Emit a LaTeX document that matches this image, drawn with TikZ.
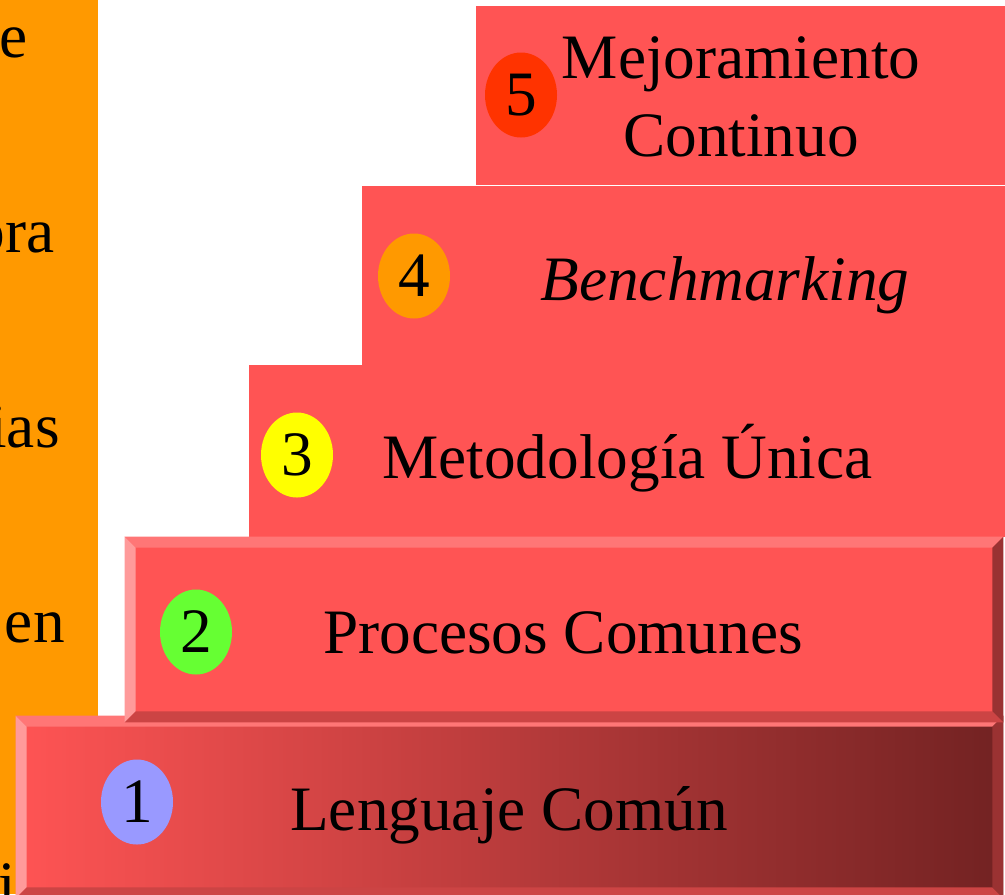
\documentclass[tikz,border=0pt]{standalone}
\usepackage{fontspec}
\setmainfont{Liberation Serif}
\usetikzlibrary{shapes.geometric}
\definecolor{stepred}{HTML}{FF5454}
\definecolor{stepdark}{HTML}{722222}
\definecolor{boxorange}{HTML}{FF9900}
\definecolor{bevtopc}{HTML}{FF7676}
\definecolor{bevleftc}{HTML}{FF9A9A}
\definecolor{bevbottomc}{HTML}{CC4444}
\definecolor{bevrightc}{HTML}{9A3232}
\definecolor{oval1}{HTML}{9999FF}
\definecolor{oval2}{HTML}{66FF33}
\definecolor{oval3}{HTML}{FFFF00}
\definecolor{oval4}{HTML}{FF9900}
\definecolor{oval5}{HTML}{FF3300}
% raised edge round a step
\newcommand{\stepbevel}[1]{%
  \fill[bevtopc] (#1.north west) -- (#1.north east) -- ([shift={(-11,11)}]#1.north east) -- ([shift={(11,11)}]#1.north west) -- cycle;
  \fill[bevleftc] (#1.north west) -- ([shift={(11,11)}]#1.north west) -- ([shift={(11,-11)}]#1.south west) -- (#1.south west) -- cycle;
  \fill[bevbottomc] (#1.south west) -- ([shift={(11,-11)}]#1.south west) -- ([shift={(-11,-11)}]#1.south east) -- (#1.south east) -- cycle;
  \fill[bevrightc] (#1.north east) -- (#1.south east) -- ([shift={(-11,-11)}]#1.south east) -- ([shift={(-11,11)}]#1.north east) -- cycle;
}
\begin{document}
\begin{tikzpicture}[x=0.2mm, y=-0.2mm, font=\fontsize{36}{44}\selectfont,
    stepbox/.style={fill=stepred, inner sep=0pt, minimum height=35.8mm},
    numoval/.style={ellipse, inner sep=0pt, minimum width=14.4mm, minimum height=17mm},
    steptext/.style={anchor=base, inner sep=0pt},
    fragtext/.style={anchor=base east, inner sep=0pt}]
        \useasboundingbox (0,0) rectangle (1005,894);
        %Left text box
        \fill[boxorange] (0,0) rectangle (98,894);
        \begin{scope}
            \clip (0,0) rectangle (98,894);
            \node [fragtext] (frag1) at (28,57) {e};
            \node [fragtext] (frag2) at (55,252) {ora};
            \node [fragtext] (frag3) at (60,447) {ias};
            \node [fragtext] (frag4) at (65,642) {en};
            \node [fragtext, anchor=base west] (frag5) at (-2,905) {i};
        \end{scope}
        %Step 5
        \node [stepbox, minimum width=105.8mm]
        (step5) at (740.5,95.5) {};
        \node [numoval, fill=oval5] (num5) at (521,95) {5};
        \node [steptext, align=center, anchor=center] (lbl5) at (741,97) {Mejoramiento\\Continuo};
        %Step 4
        \node [stepbox, minimum width=128.6mm]
        (step4) at (683.5,275.5) {};
        \node [numoval, fill=oval4] (num4) at (414,276) {4};
        \node [steptext] (lbl4) at (725,300) {\itshape Benchmarking};
        %Step 3
        \node [stepbox, minimum width=151.2mm, minimum height=34.4mm]
        (step3) at (627,451) {};
        \node [numoval, fill=oval3] (num3) at (297,455) {3};
        \node [steptext] (lbl3) at (627.5,478) {Metodología Única};
        %Step 1
        \node [stepbox, minimum width=197.4mm, minimum height=36.4mm, left color=stepred, right color=stepdark]
        (step1) at (509.5,807) {};
        \stepbevel{step1}
        \node [numoval, fill=oval1] (num1) at (137,802) {1};
        \node [steptext] (lbl1) at (509,830) {Lenguaje Común};
        %Step 2
        \node [stepbox, minimum width=175.6mm, minimum height=37mm]
        (step2) at (564,629.5) {};
        \stepbevel{step2}
        \node [numoval, fill=oval2] (num2) at (196,632) {2};
        \node [steptext] (lbl2) at (563,653) {Procesos Comunes};
    \end{tikzpicture}
\end{document}
